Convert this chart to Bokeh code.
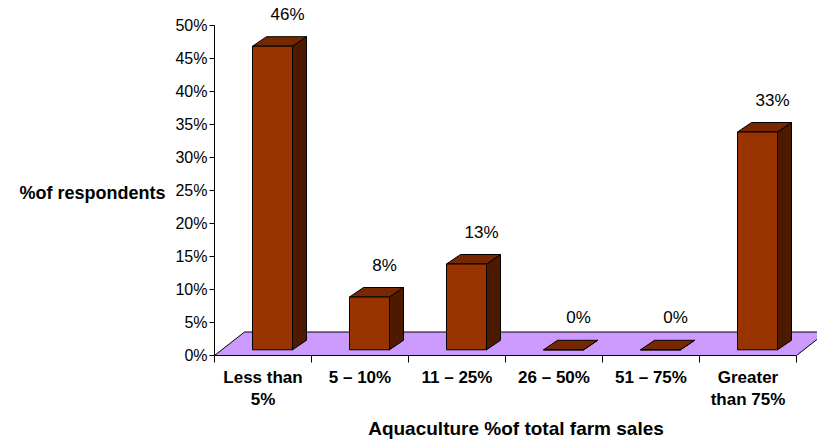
from bokeh.plotting import figure
from bokeh.models import Range1d, FixedTicker
from bokeh.embed import file_html
from bokeh.resources import INLINE
from bokeh.core.properties import value

# Share of respondents by aquaculture share of total farm sales
categories = ["Less than\n5%", "5 \u2013 10%", "11 \u2013 25%", "26 \u2013 50%", "51 \u2013 75%", "Greater\nthan 75%"]
shares = [46, 8, 13, 0, 0, 33]
value_labels = ["46%", "8%", "13%", "0%", "0%", "33%"]
y_ticks = [0, 5, 10, 15, 20, 25, 30, 35, 40, 45, 50]
y_tick_labels = ["0%", "5%", "10%", "15%", "20%", "25%", "30%", "35%", "40%", "45%", "50%"]

FONT = "Liberation Sans"
W, H = 817, 445
LEFT, BOTTOM = 214, 90
PX_X = 97.0   # pixels per category
PX_Y = 6.6    # pixels per percentage point

def dx(px):
    return px / PX_X

def dy(px):
    return px / PX_Y

x_end = (W - LEFT) / PX_X
y_end = (H - BOTTOM) / PX_Y

p = figure(width=W, height=H, x_range=Range1d(0, x_end), y_range=Range1d(0, y_end),
           output_backend="svg", toolbar_location=None,
           min_border_left=LEFT, min_border_right=0, min_border_top=0, min_border_bottom=BOTTOM,
           outline_line_color=None, background_fill_color="white", border_fill_color="white")
p.grid.visible = False

n = len(categories)

# 3-D floor
fdx, fdy = dx(30), dy(23.5)
p.patch([0, n, n + fdx, fdx], [0, 0, fdy, fdy], fill_color="#cc99ff", line_color="black", line_width=1)

# 3-D bars: front face, right side, top face
bw = dx(40)
off_x, off_y = dx(9.5), dy(5.7)
ddx, ddy = dx(14), dy(9.5)

side_xs, side_ys, top_xs, top_ys = [], [], [], []
lefts, rights, bottoms, tops = [], [], [], []
lab_x, lab_y = [], []
for i, v in enumerate(shares):
    c = i + 0.5 + off_x
    l, r = c - bw / 2, c + bw / 2
    b, t = off_y, off_y + v
    lefts.append(l); rights.append(r); bottoms.append(b); tops.append(t)
    side_xs.append([r, r + ddx, r + ddx, r])
    side_ys.append([b, b + ddy, t + ddy, t])
    top_xs.append([l, l + ddx, r + ddx, r])
    top_ys.append([t, t + ddy, t + ddy, t])
    lab_x.append(c + dx(15))
    lab_y.append(t + dy(32))

p.patches(side_xs, side_ys, fill_color="#4d1a00", line_color="black", line_width=1)
p.patches(top_xs, top_ys, fill_color="#772800", line_color="black", line_width=1)
p.quad(left=lefts, right=rights, bottom=bottoms, top=tops,
       fill_color="#993300", line_color="black", line_width=1)

p.text(x=lab_x, y=lab_y, text=value_labels, text_font=value(FONT), text_font_size="17px",
       text_align="center", text_baseline="middle", text_color="black")

# Category axis: boundary ticks as minor ticks, labels at centres
xa = p.xaxis[0]
xa.ticker = FixedTicker(ticks=[i + 0.5 for i in range(n)], minor_ticks=list(range(n + 1)))
xa.major_label_overrides = {i + 0.5: categories[i] for i in range(n)}
xa.bounds = (0, n)
xa.major_tick_out = 0
xa.major_tick_in = 0
xa.minor_tick_out = 7
xa.minor_tick_in = 0
xa.axis_line_color = "black"
xa.minor_tick_line_color = "black"
xa.major_label_text_font = FONT
xa.major_label_text_font_size = "17px"
xa.major_label_text_font_style = "bold"
xa.major_label_text_color = "black"
xa.major_label_standoff = 5
xa.axis_label = "Aquaculture %of total farm sales"
xa.axis_label_text_font = FONT
xa.axis_label_text_font_size = "19px"
xa.axis_label_text_font_style = "bold"
xa.axis_label_text_color = "black"
xa.axis_label_standoff = 6

# Value axis with a horizontal title (leading blank line sets it level with 25%)
ya = p.yaxis[0]
ya.ticker = FixedTicker(ticks=y_ticks, minor_ticks=[])
ya.major_label_overrides = {t: s for t, s in zip(y_ticks, y_tick_labels)}
ya.bounds = (0, 50)
ya.major_tick_out = 5
ya.major_tick_in = 0
ya.axis_line_color = "black"
ya.major_tick_line_color = "black"
ya.major_label_text_font = FONT
ya.major_label_text_font_size = "16px"
ya.major_label_text_color = "black"
ya.major_label_standoff = 2
ya.axis_label = "\n%of respondents"
ya.axis_label_orientation = "horizontal"
ya.axis_label_text_font = FONT
ya.axis_label_text_font_size = "18px"
ya.axis_label_text_font_style = "bold"
ya.axis_label_text_color = "black"
ya.axis_label_text_line_height = 1.5
ya.axis_label_standoff = 7

open("out.html", "w").write(file_html(p, INLINE))
